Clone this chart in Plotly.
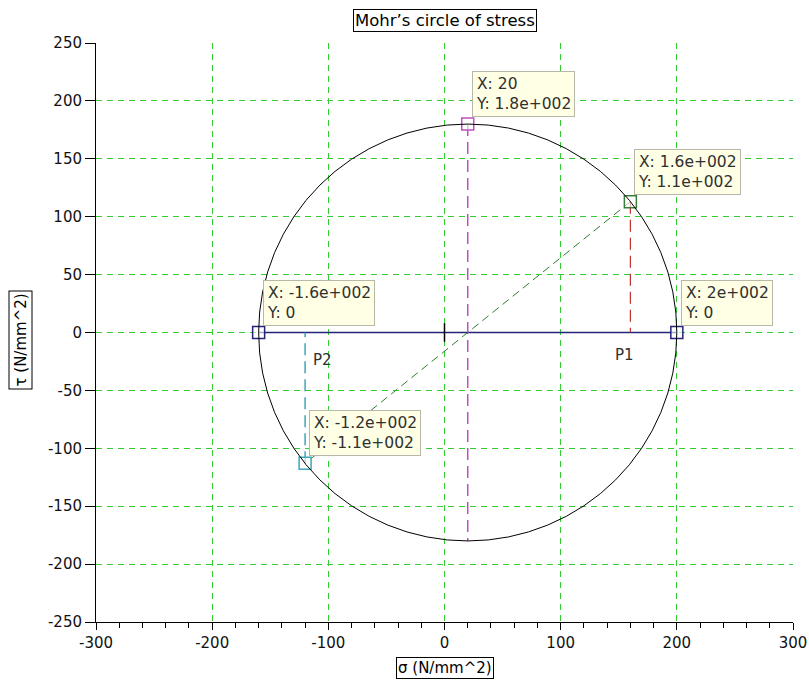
import plotly.graph_objects as go

# Data
center = 20
radius = 180
sigma1 = [-160, 200]          # principal stresses line
tau_line = [0, 0]
pt_x = [20, 160, -160, 200, -120]
pt_y = [180, 113, 0, 0, -113]
pt_colors = ["#c050c0", "#3a7a3a", "#23237a", "#23237a", "#3aa8b8"]
tip_x = ["20", "1.6e+002", "-1.6e+002", "2e+002", "-1.2e+002"]
tip_y = ["1.8e+002", "1.1e+002", "0", "0", "-1.1e+002"]
tau_max_x = [20, 20]
tau_max_y = [180, -180]
diam_x = [160, -120]
diam_y = [113, -113]
p1_x = [160, 160]
p1_y = [113, 0]
p2_x = [-120, -120]
p2_y = [-113, 0]
origin_x = [0, 0]
origin_y = [-8, 8]
lbl_text = ["P1", "P2"]
lbl_x = [155, -105]
lbl_y = [-19, -24]
x_ticks = [-300, -200, -100, 0, 100, 200, 300]
x_ticktext = ["-300", "-200", "-100", "0", "100", "200", "300"]
y_ticks = [-250, -200, -150, -100, -50, 0, 50, 100, 150, 200, 250]
y_ticktext = ["-250", "-200", "-150", "-100", "-50", "0", "50", "100", "150", "200", "250"]

FONT = "DejaVu Sans, Liberation Sans, Arial"

fig = go.Figure()

fig.add_shape(type="circle", xref="x", yref="y",
              x0=center - radius, x1=center + radius,
              y0=-radius, y1=radius,
              line=dict(color="black", width=1))

fig.add_trace(go.Scatter(x=sigma1, y=tau_line, mode="lines",
                         line=dict(color="#23237a", width=1.3)))
fig.add_trace(go.Scatter(x=tau_max_x, y=tau_max_y, mode="lines",
                         line=dict(color="#c050c0", width=1.5, dash="12px,6px")))
fig.add_trace(go.Scatter(x=diam_x, y=diam_y, mode="lines",
                         line=dict(color="#2e7d2e", width=1, dash="8px,5px")))
fig.add_trace(go.Scatter(x=p1_x, y=p1_y, mode="lines",
                         line=dict(color="#c03030", width=1.2, dash="12px,6px")))
fig.add_trace(go.Scatter(x=p2_x, y=p2_y, mode="lines",
                         line=dict(color="#30a0b4", width=1.4, dash="12px,6px")))
fig.add_trace(go.Scatter(x=origin_x, y=origin_y, mode="lines",
                         line=dict(color="black", width=1.5)))

for x, y, c in zip(pt_x, pt_y, pt_colors):
    fig.add_trace(go.Scatter(x=[x], y=[y], mode="markers",
                             marker=dict(symbol="square", size=12,
                                         color="rgba(255,255,255,0.6)",
                                         line=dict(color=c, width=1.5))))

for x, y, tx, ty in zip(pt_x, pt_y, tip_x, tip_y):
    fig.add_annotation(x=x, y=y, xref="x", yref="y", showarrow=False,
                       text=f"X: {tx}<br>Y: {ty}", align="left",
                       xanchor="left", yanchor="bottom", xshift=4, yshift=7,
                       bgcolor="#ffffe6", bordercolor="#b8b8a8", borderwidth=1,
                       borderpad=3,
                       font=dict(family=FONT, size=15.5, color="#303030"))

for t, x, y in zip(lbl_text, lbl_x, lbl_y):
    fig.add_annotation(x=x, y=y, xref="x", yref="y", showarrow=False, text=t,
                       font=dict(family=FONT, size=15, color="#303030"))

# title and axis labels in boxes
fig.add_annotation(x=0.5, y=1, xref="paper", yref="paper", yshift=11,
                   text="Mohr\u2019s circle of stress", showarrow=False,
                   xanchor="center", yanchor="bottom",
                   bordercolor="black", borderwidth=1, borderpad=1, bgcolor="white",
                   font=dict(family=FONT, size=16.5, color="black"))
fig.add_annotation(x=0.5, y=0, xref="paper", yref="paper", yshift=-35,
                   text="\u03c3 (N/mm^2)", showarrow=False,
                   xanchor="center", yanchor="top",
                   bordercolor="black", borderwidth=1, borderpad=1, bgcolor="white",
                   font=dict(family=FONT, size=15, color="black"))
fig.add_annotation(x=0, y=0.5, xref="paper", yref="paper", xshift=-88, yshift=-8,
                   text="\u03c4 (N/mm^2)", showarrow=False, textangle=-90,
                   xanchor="left", yanchor="middle",
                   bordercolor="black", borderwidth=1, borderpad=2, bgcolor="white",
                   font=dict(family=FONT, size=15, color="black"))

common = dict(showgrid=True, gridcolor="#33cc33", griddash="6px,5px", gridwidth=1,
              zeroline=False, showline=True, linecolor="black", linewidth=1,
              ticks="outside", tickcolor="black", automargin=False,
              ticklabeloverflow="allow",
              tickfont=dict(family=FONT, size=15, color="#111"))

fig.update_xaxes(range=[-300, 300], tickmode="array", tickvals=x_ticks, ticktext=x_ticktext,
                 ticklen=7,
                 minor=dict(dtick=20, tick0=-300, ticks="outside", ticklen=5,
                            tickcolor="black", showgrid=False),
                 **common)
fig.update_yaxes(range=[-250, 250], tickmode="array", tickvals=y_ticks, ticktext=y_ticktext,
                 ticklen=10, ticklabelstandoff=0, **common)

fig.update_layout(width=809, height=685, showlegend=False,
                  paper_bgcolor="white", plot_bgcolor="white",
                  margin=dict(l=96, r=16, t=43, b=63))

fig.write_html("out.html", config={"displayModeBar": False},
               post_script="document.body.style.margin='0';document.body.style.overflow='hidden';")
